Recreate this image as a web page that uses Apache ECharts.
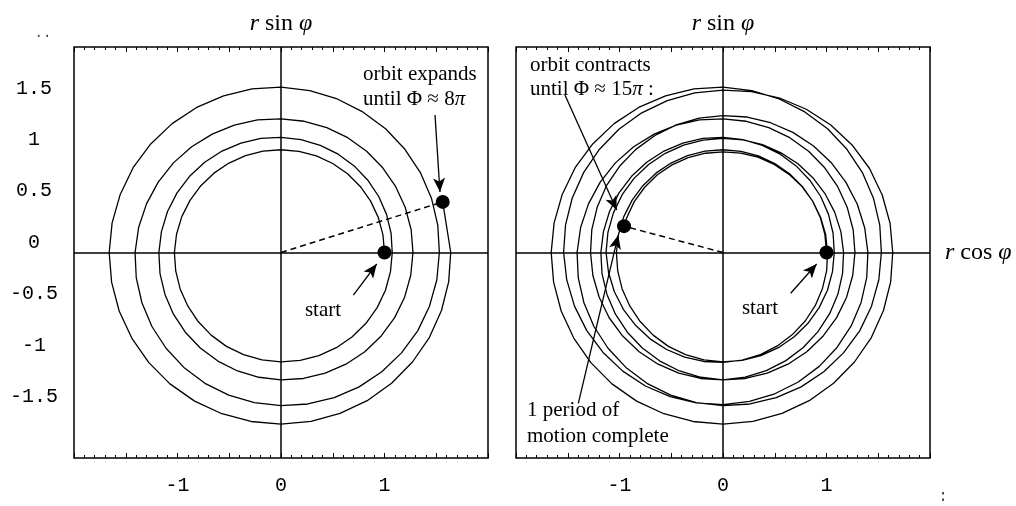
<!DOCTYPE html>
<html><head><meta charset="utf-8">
<script src="https://cdn.jsdelivr.net/npm/echarts@6/dist/echarts.min.js"></script>
<style>html,body{margin:0;padding:0;background:#fff}#c{width:1016px;height:506px}</style>
</head><body><div id="c"></div>
<script>
// ---- data (orbit radius r sampled every STEP_DEG of polar angle) ----
const STEP_DEG = 10;
// expansion phase, Φ = 0 … 8π (145 samples, 0°..1440°), one row per half turn
const rExpand = [
  1.000, 1.000, 1.000, 1.000, 1.000, 1.000, 1.000, 1.000, 1.000, 1.000, 1.001, 1.003, 1.005, 1.008, 1.011, 1.015, 1.020, 1.025,
  1.030, 1.033, 1.037, 1.040, 1.045, 1.050, 1.055, 1.058, 1.062, 1.065, 1.067, 1.069, 1.070, 1.071, 1.072, 1.073, 1.074, 1.074,
  1.075, 1.080, 1.085, 1.090, 1.095, 1.100, 1.105, 1.110, 1.115, 1.120, 1.127, 1.133, 1.140, 1.147, 1.153, 1.160, 1.167, 1.173,
  1.180, 1.187, 1.193, 1.200, 1.207, 1.213, 1.220, 1.227, 1.233, 1.240, 1.245, 1.250, 1.255, 1.260, 1.264, 1.268, 1.271, 1.273,
  1.275, 1.277, 1.278, 1.280, 1.283, 1.287, 1.290, 1.293, 1.297, 1.300, 1.310, 1.320, 1.330, 1.343, 1.357, 1.370, 1.383, 1.397,
  1.410, 1.420, 1.430, 1.440, 1.450, 1.460, 1.470, 1.477, 1.483, 1.490, 1.497, 1.503, 1.510, 1.515, 1.520, 1.525, 1.527, 1.529,
  1.530, 1.538, 1.547, 1.555, 1.563, 1.572, 1.580, 1.590, 1.600, 1.610, 1.617, 1.623, 1.630, 1.637, 1.643, 1.650, 1.653, 1.657,
  1.660, 1.662, 1.664, 1.665, 1.667, 1.669, 1.670, 1.670, 1.670, 1.670, 1.668, 1.667, 1.665, 1.662, 1.658, 1.655, 1.650, 1.645,
  1.640
];
const leftEnd = { angle: 1457.5, r: 1.638 };
// contraction phase, continues from 1450° to 2680°
const rContract = [
  1.639, 1.637, 1.635, 1.628, 1.620, 1.610, 1.600, 1.590, 1.580, 1.577, 1.573, 1.570, 1.565, 1.560, 1.555, 1.550, 1.545,
  1.540, 1.533, 1.527, 1.520, 1.513, 1.507, 1.500, 1.493, 1.487, 1.480, 1.472, 1.463, 1.455, 1.447, 1.438, 1.430, 1.420, 1.410,
  1.400, 1.390, 1.380, 1.370, 1.363, 1.357, 1.350, 1.344, 1.339, 1.333, 1.327, 1.321, 1.315, 1.310, 1.305, 1.300, 1.293, 1.287,
  1.280, 1.277, 1.273, 1.270, 1.265, 1.260, 1.255, 1.250, 1.245, 1.240, 1.232, 1.223, 1.215, 1.207, 1.198, 1.190, 1.182, 1.173,
  1.165, 1.157, 1.148, 1.140, 1.133, 1.127, 1.120, 1.117, 1.113, 1.110, 1.111, 1.113, 1.115, 1.118, 1.122, 1.125, 1.127, 1.129,
  1.130, 1.123, 1.117, 1.110, 1.103, 1.097, 1.090, 1.083, 1.077, 1.070, 1.063, 1.057, 1.050, 1.043, 1.037, 1.030, 1.023, 1.017,
  1.010, 1.007, 1.003, 1.000, 0.997, 0.993, 0.990, 0.987, 0.983, 0.980, 0.981, 0.983, 0.985, 0.987, 0.988, 0.990, 0.990
];
const rightEnd = { angle: 2685, r: 0.99 };
const xTickLabels = [-1, 0, 1];
const yTickLabels = [-1.5, -1, -0.5, 0, 0.5, 1, 1.5];
const axisMin = -2, axisMax = 2, axisStep = 0.5;

// annotation arrows (data coordinates, tail -> head)
const arrowsLeft = [[[1.488, 1.338], [1.536, 0.589]], [[0.699, -0.414], [0.925, -0.112]]];
const arrowsRight = [[[-1.527, 1.533], [-1.027, 0.414]], [[-1.398, -1.468], [-1.012, 0.170]], [[0.654, -0.397], [0.905, -0.112]]];

// ---- build ----
const toXY = (deg, r) => [r * Math.cos(deg * Math.PI / 180), r * Math.sin(deg * Math.PI / 180)];
const leftOrbit = rExpand.map((r, i) => toXY(i * STEP_DEG, r)).concat([toXY(leftEnd.angle, leftEnd.r)]);
const rightOrbit = rExpand.concat(rContract).map((r, i) => toXY(i * STEP_DEG, r)).concat([toXY(rightEnd.angle, rightEnd.r)]);

const MONO = '"Liberation Mono", "DejaVu Sans Mono", monospace';
const SERIF = '"Liberation Serif", "DejaVu Serif", serif';

function xAxisDef(grid, pos) {
  return {
    type: 'value', gridIndex: grid, position: pos, min: axisMin, max: axisMax, interval: axisStep,
    axisLine: { show: false, onZero: false },
    axisTick: { show: true, inside: true, length: 5, lineStyle: { color: '#000', width: 1 } },
    minorTick: { show: true, splitNumber: 5, length: 3, lineStyle: { color: '#000', width: 1 } },
    splitLine: { show: false }, minorSplitLine: { show: false },
    axisLabel: pos === 'bottom' ? {
      show: true, margin: 18, color: '#000', fontFamily: MONO, fontSize: 20,
      formatter: v => xTickLabels.includes(v) ? String(v) : ''
    } : { show: false }
  };
}
function yAxisDef(grid, labels) {
  return {
    type: 'value', gridIndex: grid, min: axisMin, max: axisMax, interval: axisStep,
    axisLine: { show: false, onZero: false }, axisTick: { show: false }, splitLine: { show: false },
    axisLabel: labels ? {
      show: true, margin: 40, align: 'center', verticalAlign: 'bottom', lineHeight: 20, color: '#000',
      fontFamily: MONO, fontSize: 20,
      formatter: v => yTickLabels.includes(v) ? String(v) : ''
    } : { show: false }
  };
}
function arrowLines(list) {
  return list.map(a => [
    { coord: a[0], symbol: 'none' },
    { coord: a[1], symbol: 'arrow', symbolSize: [9, 14] }
  ]);
}
function plotSeries(xi, yi, orbit, arrows) {
  const start = orbit[0], end = orbit[orbit.length - 1];
  return [
    {
      type: 'line', xAxisIndex: xi, yAxisIndex: yi, data: orbit, showSymbol: false, smooth: false,
      lineStyle: { color: '#000', width: 1.3 }, z: 3, silent: true,
      markLine: {
        silent: true, symbol: ['none', 'none'], label: { show: false },
        lineStyle: { color: '#000', width: 1.5, type: 'solid' },
        data: [{ xAxis: 0 }, { yAxis: 0 }]
      }
    },
    {
      type: 'line', xAxisIndex: xi, yAxisIndex: yi, data: [[0, 0], end], showSymbol: false,
      lineStyle: { color: '#000', width: 1.5, type: [6, 4] }, z: 4, silent: true,
      markLine: {
        silent: true, label: { show: false },
        lineStyle: { color: '#000', width: 1.3, type: 'solid' },
        data: arrowLines(arrows)
      }
    },
    {
      type: 'scatter', xAxisIndex: xi, yAxisIndex: yi, data: [start, end], symbolSize: 14,
      itemStyle: { color: '#000', opacity: 1 }, z: 6, silent: true
    }
  ];
}

const chart = echarts.init(document.getElementById('c'), null, { renderer: 'canvas' });
const txt = (x, y, text, opts) => Object.assign({
  type: 'text', x, y,
  style: Object.assign({ text, fill: '#000', font: '21px ' + SERIF, textAlign: 'left', textVerticalAlign: 'middle' }, opts || {})
});
const titleStyle = (t) => ({
  text: t, fill: '#000', font: '24px ' + SERIF, textAlign: 'center', textVerticalAlign: 'middle',
  rich: {
    i: { fontFamily: SERIF, fontSize: 24, fontStyle: 'italic' },
    n: { fontFamily: SERIF, fontSize: 24 }
  }
});
const annRich = {
  n: { fontFamily: SERIF, fontSize: 21 },
  i: { fontFamily: SERIF, fontSize: 21, fontStyle: 'italic' }
};

chart.setOption({
  animation: false,
  backgroundColor: '#fff',
  grid: [
    { left: 74, top: 47, width: 414, height: 411, show: true, borderColor: '#000', borderWidth: 1.5, backgroundColor: 'transparent' },
    { left: 516, top: 47, width: 414, height: 411, show: true, borderColor: '#000', borderWidth: 1.5, backgroundColor: 'transparent' }
  ],
  xAxis: [xAxisDef(0, 'bottom'), xAxisDef(0, 'top'), xAxisDef(1, 'bottom'), xAxisDef(1, 'top')],
  yAxis: [yAxisDef(0, true), yAxisDef(1, false)],
  series: [].concat(plotSeries(0, 0, leftOrbit, arrowsLeft), plotSeries(2, 1, rightOrbit, arrowsRight)),
  graphic: [
    { type: 'text', x: 281, y: 24, style: titleStyle('{i|r} {n|sin} {i|φ}') },
    { type: 'text', x: 723, y: 24, style: titleStyle('{i|r} {n|sin} {i|φ}') },
    { type: 'text', x: 945, y: 253, style: Object.assign(titleStyle('{i|r} {n|cos} {i|φ}'), { textAlign: 'left' }) },
    txt(363, 74, 'orbit expands'),
    txt(363, 99, '{n|until Φ ≈ 8}{i|π}', { rich: annRich }),
    txt(323, 310, 'start', { textAlign: 'center' }),
    txt(530, 65, 'orbit contracts'),
    txt(530, 89, '{n|until Φ ≈ 15}{i|π}{n| :}', { rich: annRich }),
    txt(760, 308, 'start', { textAlign: 'center' }),
    txt(527, 410, '1 period of'),
    txt(527, 436, 'motion complete'),
    txt(43, 33, '..', { font: '14px ' + MONO, fill: '#444', textAlign: 'center' }),
    txt(943, 497, ':', { font: '16px ' + MONO, fill: '#444', textAlign: 'center' })
  ]
});
</script></body></html>
